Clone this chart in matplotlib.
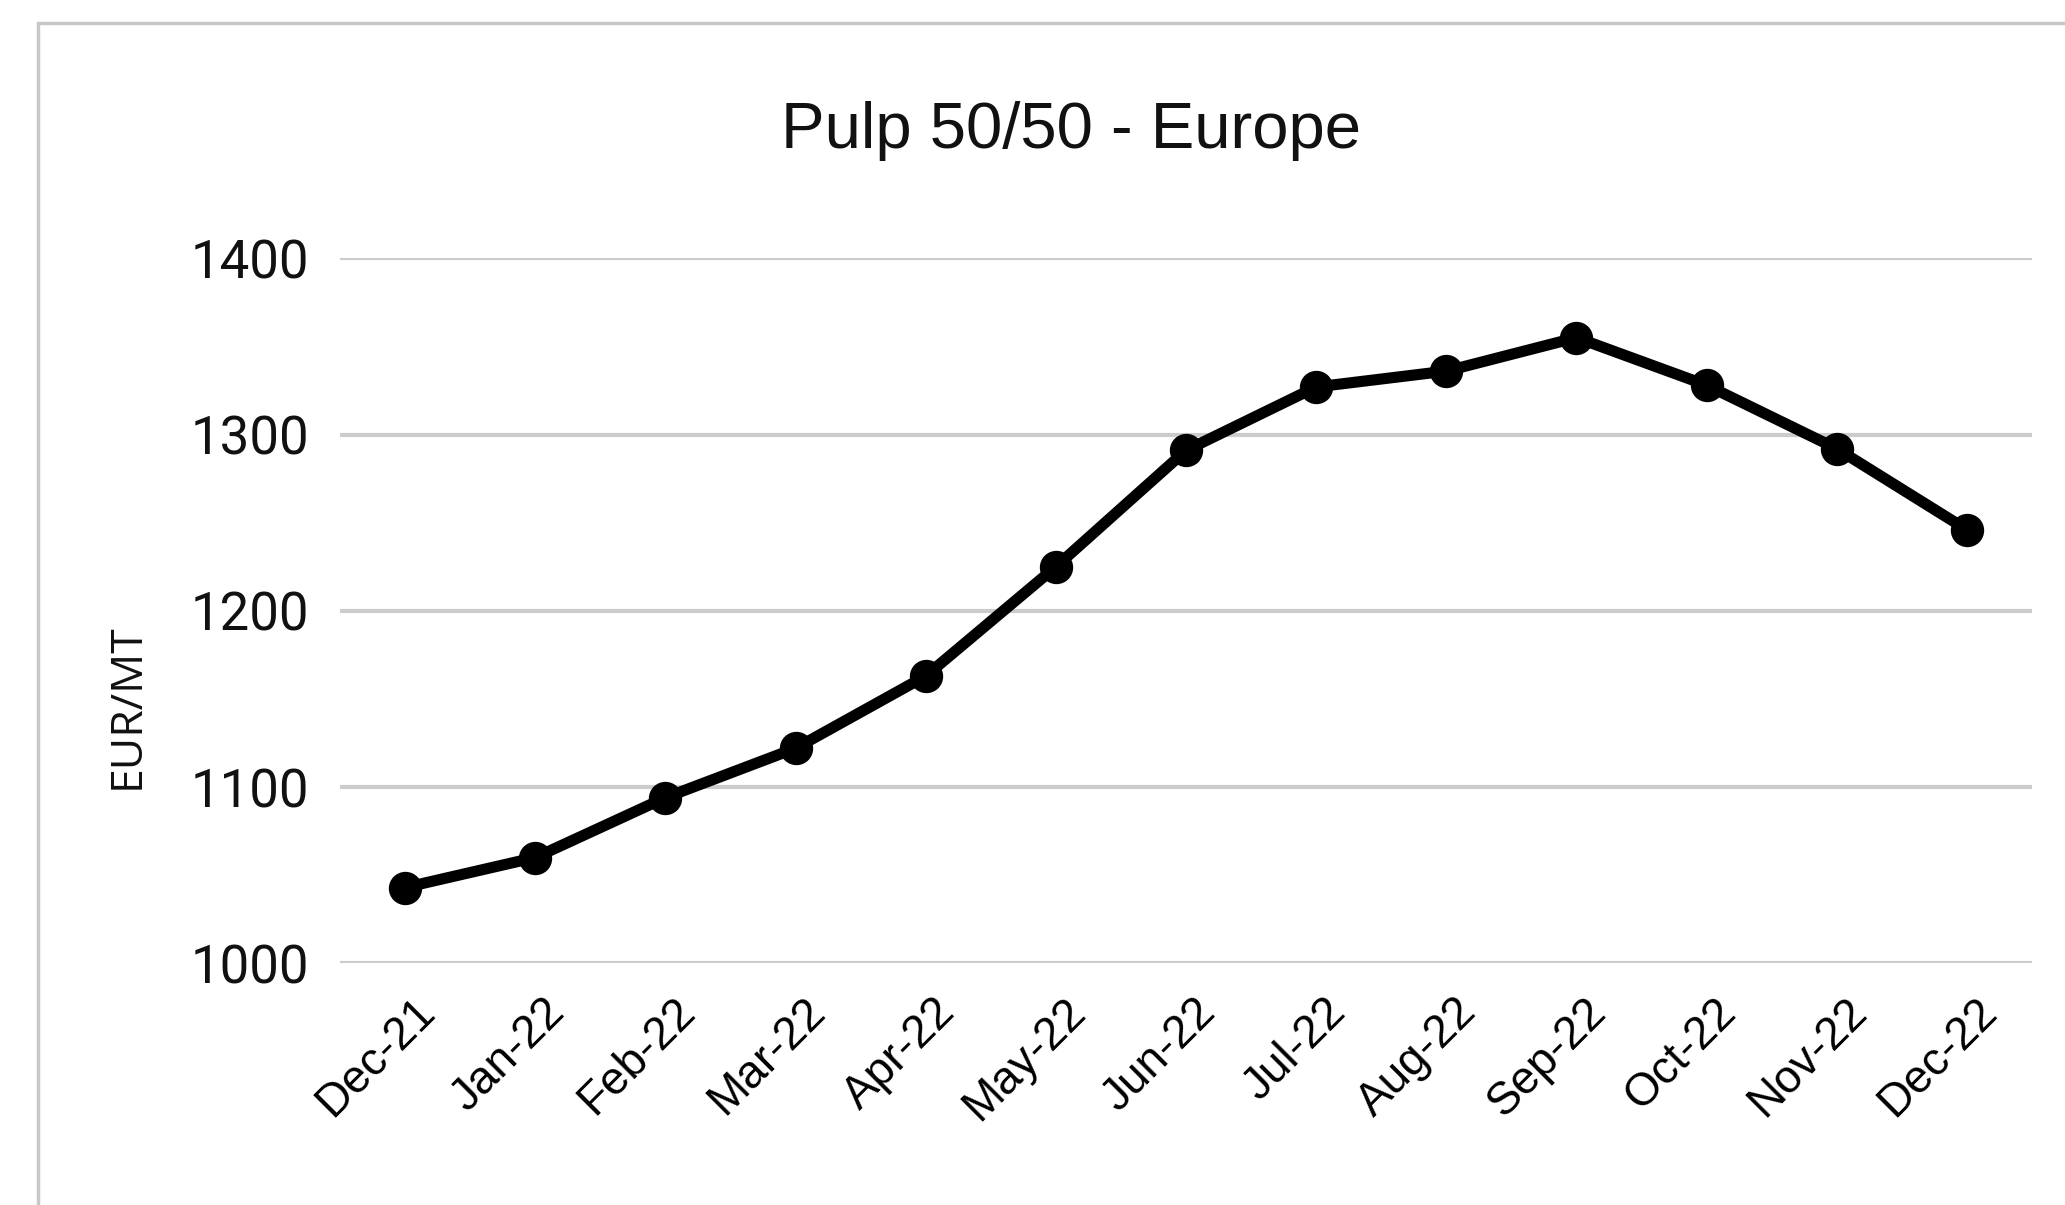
import matplotlib
matplotlib.use("Agg")
import matplotlib.pyplot as plt
import matplotlib.transforms as mtransforms
from matplotlib.patches import Rectangle

months = ["Dec-21", "Jan-22", "Feb-22", "Mar-22", "Apr-22", "May-22", "Jun-22",
          "Jul-22", "Aug-22", "Sep-22", "Oct-22", "Nov-22", "Dec-22"]
prices = [1043, 1060, 1094, 1122, 1163, 1225, 1291, 1327, 1336, 1355, 1328, 1292, 1246]
y_ticks = [1000, 1100, 1200, 1300, 1400]
title = "Pulp 50/50 - Europe"
y_label = "EUR/MT"

W, H = 2065, 1205
fig = plt.figure(figsize=(W / 100, H / 100), dpi=100)
fig.patch.set_facecolor("white")

# card border (light grey frame at left and top)
fig.patches.append(Rectangle((38 / W, -0.1), 1.2, 1 - 23 / H + 0.1,
                             transform=fig.transFigure, fill=False,
                             edgecolor="#c8c8c8", linewidth=2.5))

ax = fig.add_axes([340 / W, 1 - 963.3 / H, (2032 - 340) / W, (963.3 - 258.3) / H])
x = list(range(len(months)))
ax.plot(x, prices, color="black", linewidth=8, marker="o", markersize=23,
        solid_joinstyle="round", zorder=3)

ax.set_xlim(-0.5, len(months) - 0.5)
ax.set_ylim(1000, 1400)
ax.set_yticks(y_ticks)
ax.set_yticklabels([str(v) for v in y_ticks], fontfamily="Roboto", fontsize=38)
ax.yaxis.grid(True, color="#cccccc", linewidth=3)
ax.set_axisbelow(True)
ax.tick_params(axis="y", length=0, pad=22, colors="#111111")
ax.tick_params(axis="x", length=0, pad=10)
ax.set_xticks(x)
ax.set_xticklabels(months, fontfamily="Liberation Sans", fontsize=33,
                   rotation=45, ha="right", va="center", rotation_mode="anchor")
offset = mtransforms.ScaledTranslation(0.23, -0.28, fig.dpi_scale_trans)
for lbl in ax.get_xticklabels():
    lbl.set_transform(lbl.get_transform() + offset)
for s in ax.spines.values():
    s.set_visible(False)

fig.text(1071 / W, 1 - 131 / H, title, ha="center", va="center",
         fontfamily="Liberation Sans", fontsize=47, color="#111111")
fig.text(127 / W, 1 - 706 / H, y_label, ha="center", va="center", rotation=90,
         fontfamily="Open Sans", fontsize=32, color="#111111")

fig.savefig("out.png", dpi=100, facecolor="white")
